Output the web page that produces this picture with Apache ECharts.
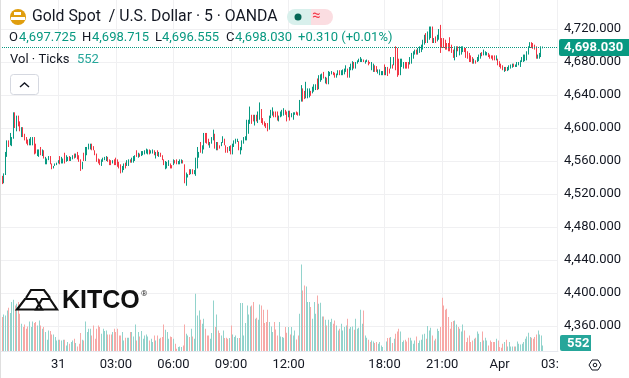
<!DOCTYPE html>
<html><head><meta charset="utf-8">
<script src="https://cdn.jsdelivr.net/npm/echarts@6/dist/echarts.min.js"></script>
<style>html,body{margin:0;padding:0;background:#fff}#c{width:629px;height:378px}</style>
</head><body><div id="c"></div>
<script>
const opens=[null,
4541,4534,4544,4566,4584,4580,4579,4588,4618,4597,
4614,4607,4590,4600,4592,4588,4585,4580,4580,4580,
4588,4580,4567,4566,4576,4567,4572,4557,4557,4562,
4565,4556,4552,4555,4556,4558,4565,4558,4558,4569,
4560,4561,4565,4561,4563,4568,4565,4570,4566,4561,
4551,4569,4561,4568,4575,4575,4580,4577,4572,4568,
4562,4561,4555,4560,4562,4561,4564,4561,4560,4558,
4561,4563,4561,4558,4555,4547,4550,4557,4555,4555,
4561,4559,4559,4561,4572,4565,4568,4567,4568,4569,
4570,4569,4573,4570,4570,4572,4564,4572,4566,4569,
4566,4561,4551,4552,4555,4556,4554,4556,4560,4561,
4557,4557,4558,4560,4555,4531,4541,4549,4545,4549,
4545,4543,4552,4565,4582,4570,4575,4592,4593,4586,
4577,4582,4586,4592,4574,4582,4578,4579,4583,4586,
4578,4576,4573,4578,4569,4578,4582,4584,4583,4569,
4574,4582,4586,4586,4594,4606,4615,4615,4604,4615,
4607,4611,4622,4611,4607,4605,4605,4599,4613,4616,
4619,4619,4619,4609,4614,4615,4616,4621,4619,4614,
4620,4614,4611,4617,4619,4618,4616,4633,4647,4644,
4637,4637,4638,4644,4643,4645,4647,4659,4648,4657,
4659,4667,4655,4660,4654,4664,4666,4667,4666,4662,
4665,4669,4665,4665,4666,4669,4671,4662,4671,4671,
4679,4673,4679,4681,4681,4681,4682,4679,4681,4681,
4680,4671,4669,4675,4674,4667,4665,4665,4665,4676,
4665,4673,4671,4673,4676,4677,4698,4696,4683,4665,
4675,4673,4679,4679,4679,4678,4679,4685,4690,4694,
4690,4692,4693,4696,4702,4714,4704,4708,4710,4722,
4704,4710,4706,4708,4724,4708,4708,4706,4702,4702,
4709,4700,4694,4683,4687,4698,4689,4690,4693,4696,
4696,4692,4690,4687,4685,4679,4681,4681,4682,4685,
4691,4689,4689,4689,4690,4688,4687,4687,4687,4683,
4683,4680,4677,4675,4669,4673,4670,4671,4673,4674,
4677,4675,4675,4677,4675,4681,4681,4682,4683,4690,
4698,4703,4702,4700,4698,4685,4685,4687,4697.725];
const closes=[null,
4533,4544,4570,4584,4578,4593,4588,4618,4601,4614,
4603,4597,4600,4590,4586,4582,4580,4586,4588,4588,
4569,4570,4573,4573,4568,4573,4564,4564,4562,4565,
4557,4551,4553,4556,4557,4560,4557,4564,4562,4558,
4566,4564,4561,4564,4566,4564,4568,4563,4560,4549,
4558,4561,4576,4576,4580,4580,4574,4574,4568,4560,
4558,4556,4561,4563,4564,4565,4560,4556,4556,4560,
4556,4556,4554,4552,4546,4553,4556,4552,4560,4561,
4559,4563,4565,4566,4566,4569,4566,4571,4571,4572,
4574,4573,4569,4572,4573,4568,4570,4567,4570,4566,
4562,4556,4559,4558,4560,4552,4552,4561,4558,4557,
4559,4561,4561,4558,4534,4545,4543,4544,4549,4545,
4548,4563,4576,4570,4571,4578,4593,4584,4582,4580,
4582,4588,4597,4576,4582,4574,4576,4582,4589,4580,
4571,4571,4577,4569,4580,4584,4586,4586,4574,4576,
4584,4588,4589,4609,4609,4625,4606,4609,4615,4609,
4619,4630,4607,4605,4603,4601,4597,4614,4621,4624,
4614,4614,4610,4614,4619,4621,4623,4617,4609,4620,
4610,4617,4618,4618,4617,4616,4633,4651,4633,4636,
4655,4647,4647,4640,4649,4652,4652,4647,4663,4664,
4665,4661,4661,4654,4668,4667,4668,4665,4662,4665,
4669,4665,4669,4670,4671,4675,4662,4673,4677,4680,
4673,4679,4681,4683,4685,4683,4681,4681,4682,4677,
4678,4679,4677,4669,4669,4670,4670,4668,4668,4665,
4673,4664,4667,4685,4673,4685,4671,4663,4665,4683,
4683,4679,4673,4673,4673,4685,4690,4692,4694,4690,
4696,4698,4700,4706,4712,4704,4716,4722,4722,4704,
4708,4704,4712,4719,4692,4698,4698,4696,4696,4694,
4694,4692,4686,4698,4698,4694,4698,4698,4698,4693,
4686,4685,4681,4681,4679,4683,4679,4685,4688,4690,
4688,4694,4692,4691,4687,4685,4685,4683,4683,4687,
4677,4675,4673,4671,4673,4670,4673,4675,4676,4677,
4675,4676,4679,4679,4681,4685,4688,4688,4692,4698,
4703,4698,4697,4696,4685,4688,4690,4698,4698.03];
const highs=[null,
4542,4545,4571,4585,4585,4594,4589,4619,4619,4615,
4615,4608,4601,4601,4593,4589,4586,4587,4589,4589,
4589,4581,4574,4574,4577,4574,4573,4565,4563,4566,
4566,4557,4554,4557,4558,4561,4566,4565,4563,4570,
4567,4565,4566,4565,4567,4569,4569,4571,4567,4562,
4559,4570,4577,4577,4581,4581,4581,4578,4573,4569,
4563,4562,4562,4564,4565,4566,4565,4562,4561,4561,
4562,4564,4562,4559,4556,4554,4557,4558,4561,4562,
4562,4564,4566,4567,4573,4570,4569,4572,4572,4573,
4575,4574,4574,4573,4574,4573,4571,4573,4571,4570,
4567,4562,4560,4559,4561,4557,4555,4562,4561,4562,
4560,4562,4562,4561,4556,4546,4544,4550,4550,4550,
4549,4564,4577,4571,4583,4579,4594,4594,4594,4587,
4583,4589,4598,4593,4583,4583,4579,4583,4590,4587,
4579,4577,4578,4579,4581,4585,4587,4587,4584,4577,
4585,4589,4590,4610,4610,4626,4616,4616,4616,4616,
4620,4631,4623,4612,4608,4606,4606,4615,4622,4625,
4620,4620,4620,4615,4620,4622,4624,4622,4620,4621,
4621,4618,4619,4619,4620,4619,4634,4652,4648,4645,
4656,4648,4648,4645,4650,4653,4653,4660,4664,4665,
4666,4668,4662,4661,4669,4668,4669,4668,4667,4666,
4670,4670,4670,4671,4672,4676,4672,4674,4678,4681,
4680,4680,4682,4684,4686,4684,4683,4682,4683,4682,
4680,4680,4678,4676,4675,4671,4671,4669,4669,4677,
4674,4674,4672,4686,4677,4686,4699,4697,4684,4684,
4684,4680,4680,4680,4680,4686,4691,4693,4695,4695,
4697,4699,4701,4707,4713,4715,4717,4723,4723,4723,
4709,4711,4713,4720,4725,4709,4709,4707,4703,4703,
4710,4701,4695,4699,4699,4699,4699,4699,4699,4697,
4697,4693,4691,4688,4686,4684,4682,4686,4689,4691,
4692,4695,4693,4692,4691,4689,4688,4688,4688,4688,
4684,4681,4678,4676,4674,4674,4674,4676,4677,4678,
4678,4677,4680,4680,4682,4686,4689,4689,4693,4699,
4704,4704,4703,4701,4699,4689,4691,4699,4698.715];
const lows=[null,
4532,4533,4543,4565,4577,4579,4578,4587,4600,4596,
4602,4596,4589,4589,4585,4581,4579,4579,4579,4579,
4568,4569,4566,4565,4567,4566,4563,4556,4556,4561,
4556,4550,4551,4554,4555,4557,4556,4557,4557,4557,
4559,4560,4560,4560,4562,4563,4564,4562,4559,4548,
4550,4560,4560,4567,4574,4574,4573,4573,4567,4559,
4557,4555,4554,4559,4561,4560,4559,4555,4555,4557,
4555,4555,4553,4551,4545,4546,4549,4551,4554,4554,
4558,4558,4558,4560,4565,4564,4565,4566,4567,4568,
4569,4568,4568,4569,4569,4567,4563,4566,4565,4565,
4561,4555,4550,4551,4554,4551,4551,4555,4557,4556,
4556,4556,4557,4557,4533,4530,4540,4543,4544,4544,
4544,4542,4551,4564,4570,4569,4574,4582,4581,4579,
4576,4581,4585,4575,4573,4573,4575,4578,4582,4579,
4570,4570,4572,4568,4568,4577,4581,4583,4573,4568,
4573,4581,4585,4585,4593,4605,4605,4608,4603,4608,
4606,4610,4606,4604,4602,4600,4596,4598,4612,4615,
4613,4613,4609,4608,4613,4614,4615,4616,4608,4613,
4609,4613,4610,4616,4616,4615,4615,4632,4632,4635,
4636,4636,4637,4639,4642,4644,4646,4646,4647,4656,
4658,4660,4654,4653,4653,4663,4665,4664,4661,4661,
4664,4664,4664,4664,4665,4668,4661,4661,4670,4670,
4672,4672,4678,4680,4680,4680,4680,4678,4680,4676,
4678,4670,4668,4668,4668,4666,4664,4664,4664,4664,
4664,4663,4666,4672,4672,4676,4670,4662,4664,4664,
4674,4672,4672,4672,4672,4677,4678,4684,4689,4689,
4689,4691,4692,4695,4701,4703,4703,4707,4709,4703,
4703,4703,4705,4707,4691,4697,4697,4695,4695,4693,
4693,4691,4685,4682,4686,4693,4688,4689,4692,4692,
4685,4684,4680,4680,4678,4678,4678,4680,4681,4684,
4687,4688,4688,4688,4686,4684,4684,4682,4682,4682,
4676,4674,4672,4670,4668,4669,4669,4670,4672,4673,
4674,4674,4674,4676,4674,4680,4680,4681,4682,4689,
4697,4697,4696,4695,4684,4684,4684,4686,4696.555];
const volumes=[null,
3400,3660,3560,4060,4330,3800,4900,5130,4560,4730,
4900,3730,2730,2400,2660,2230,2460,2960,2400,2960,
2800,2900,2560,3060,2560,2230,2400,1900,1130,2060,
2000,1660,1660,1400,1060,1130,1130,1060,1130,1130,
560,900,730,900,1060,1230,800,460,730,1800,
1130,1060,2960,1900,2230,2230,1560,2560,1230,2230,
2560,2400,1730,2230,2000,2060,1660,1660,1660,1900,
2230,1900,2230,1560,1560,1900,1060,1330,1330,1330,
1900,1900,1460,2660,1060,1900,1460,2000,1230,1560,
1660,1460,1060,1230,900,1560,1060,1560,1230,1330,
1400,2660,2130,1900,1230,1460,1400,1230,730,230,
400,460,400,560,2660,1730,1560,1400,2230,1460,
1230,5730,3560,4060,3130,2730,3230,2230,1560,1560,
1230,1800,5060,2400,3660,2060,1800,1560,2060,1300,
1330,1230,1300,2560,1660,1400,1560,1300,1300,4800,
4800,1560,2800,4560,3660,4460,4560,4900,3230,3330,
3130,4660,4560,4130,2800,2900,4130,2900,2460,1900,
2900,2160,1560,2900,1460,1400,1330,2400,1830,2400,
1660,2400,1560,2060,1160,1560,3730,8660,6060,6560,
6460,4900,4900,4400,3230,4900,3730,5560,4730,4830,
3460,3460,3130,2560,3130,2900,3230,2730,3060,2560,
2060,2230,2730,2060,2400,2560,3230,2230,2400,2460,
2130,3230,2230,2330,4130,2730,4060,1560,1330,1130,
900,1060,960,800,900,730,900,560,400,60,
960,1300,1330,1400,800,1230,1730,1960,2230,1960,
900,1060,1130,960,1330,1330,1060,730,1060,1460,
800,1060,1130,1660,1730,1230,2500,2060,2330,1560,
1060,1230,2230,2000,2400,5330,4560,4130,4230,3400,
2230,2900,3000,3060,2660,2400,2230,1960,2660,2060,
900,1330,1560,900,1060,1230,1330,1960,1730,900,
1960,1060,1330,1060,560,1060,900,900,900,1230,
1060,400,330,730,900,1130,460,900,460,460,
460,460,960,730,660,730,900,1230,1460,1830,
1400,1330,1230,1400,1660,2060,1660,1560,552];
const timeTicks={36:'31',72:'03:00',108:'06:00',144:'09:00',180:'12:00',240:'18:00',276:'21:00',312:'Apr',348:'03:00'};
const slotCount=349;
const lastPrice=4698.03, lastVolume='552';
const priceTicks={min:4320,max:4755.15,step:40};

const categories=Array.from({length:slotCount},(_,i)=>String(i));
const UP='#089981',DOWN='#F23645',VUP='#92D3CC',VDOWN='#F7A9A7',INK='#131722';
const FONT='Roboto,sans-serif';
const candle=opens.map((o,i)=>o==null?'-':[o,closes[i],lows[i],highs[i]]);
const fmt=v=>v.toFixed(3).replace(/\B(?=(\d{3})+\.)/,',');
const showTick=i=>timeTicks[i]!==undefined;
const T=(x,y,text,fill,size,extra,z)=>({type:'text',z:z||50,x,y,style:Object.assign({text,fill,font:(size||13)+'px '+FONT,textVerticalAlign:'middle'},extra||{})});
const chart=echarts.init(document.getElementById('c'),null,{renderer:'canvas'});
chart.setOption({
 animation:false,backgroundColor:'#fff',
 grid:[{left:0,top:0,width:558,height:359},{left:0,top:0,width:558,height:351}],
 xAxis:[
  {type:'category',gridIndex:0,data:categories,show:false},
  {type:'category',gridIndex:1,data:categories,
   axisLine:{show:true,lineStyle:{color:'#e6e8ee'}},axisTick:{show:false},
   splitLine:{show:true,alignWithLabel:true,interval:(i)=>showTick(i),lineStyle:{color:'#f0f0f2',width:1}},
   axisLabel:{interval:(i)=>showTick(i),formatter:(v,i)=>timeTicks[i]||'',color:INK,fontSize:13,fontFamily:FONT,margin:7,hideOverlap:false}}
 ],
 yAxis:[
  {type:'value',gridIndex:0,min:priceTicks.min,max:priceTicks.max,interval:priceTicks.step,position:'right',
   axisLine:{show:false},axisTick:{show:false},
   splitLine:{show:true,showMinLine:false,showMaxLine:false,lineStyle:{color:'#f0f0f2',width:1}},
   axisLabel:{color:INK,fontSize:13,fontFamily:FONT,margin:6,showMinLabel:false,showMaxLabel:false,formatter:fmt,padding:[0,0,4,0]}},
  {type:'value',gridIndex:1,min:0,max:35100,show:false}
 ],
 series:[
  {type:'custom',xAxisIndex:1,yAxisIndex:1,z:1,silent:true,
   data:volumes.map((v,i)=>v==null?[i,'-']:[i,v]),encode:{x:0,y:1},
   renderItem:(params,api)=>{
     const i=api.value(0), v=api.value(1);
     if(isNaN(v)) return;
     const top=api.coord([i,v]), base=api.coord([i,0]);
     return {type:'rect',shape:{x:Math.floor(top[0]),y:top[1],width:1,height:base[1]-top[1]},
       style:{fill:closes[i]>=opens[i]?VUP:VDOWN}};
   }},
  {type:'candlestick',xAxisIndex:0,yAxisIndex:0,data:candle,barWidth:0.8,z:2,silent:true,
   itemStyle:{color:UP,color0:DOWN,borderColor:UP,borderColor0:DOWN,borderWidth:1},
   markLine:{silent:true,symbol:'none',label:{show:false},lineStyle:{color:UP,type:'dotted',width:1},data:[{yAxis:lastPrice}]}}
 ],
 graphic:[
  {type:'rect',z:49,x:558,y:352,shape:{width:71,height:26},style:{fill:'#fff'}},
  {type:'rect',z:49,x:0,y:0,shape:{width:1,height:378},style:{fill:'#dfdfdf'}},
  {type:'circle',z:50,shape:{cx:18,cy:17,r:8},style:{fill:'#E09E0E'}},
  {type:'rect',z:51,x:14,y:12,shape:{width:7,height:3},style:{fill:'#fff'}},
  {type:'rect',z:51,x:11,y:17,shape:{width:14,height:3},style:{fill:'#fff'}},
  T(32,17.5,'Gold Spot  / U.S. Dollar · 5 · OANDA',INK,15.8),
  {type:'rect',z:50,x:287,y:9,shape:{width:24,height:16,r:[8,0,0,8]},style:{fill:'#D8F0EC'}},
  {type:'rect',z:50,x:311,y:9,shape:{width:22,height:16,r:[0,8,8,0]},style:{fill:'#FBDDE1'}},
  {type:'circle',z:51,shape:{cx:298,cy:17,r:3.5},style:{fill:'#056656'}},
  T(312,16.5,'≈',DOWN,15),
  T(9,38,'O',INK),T(19,38,'4,697.725',UP),
  T(82,38,'H',INK),T(92,38,'4,698.715',UP),
  T(155,38,'L',INK),T(162,38,'4,696.555',UP),
  T(226,38,'C',INK),T(235,38,'4,698.030',UP),
  T(298,38,'+0.310 (+0.01%)',UP),
  T(10,59.5,'Vol · Ticks',INK),T(77,59.5,'552','#26a69a'),
  {type:'rect',z:50,x:10.5,y:74.5,shape:{width:28,height:20,r:3},style:{fill:'#fff',stroke:'#d5d8e0',lineWidth:1}},
  {type:'polyline',z:51,shape:{points:[[20,87],[24.5,83],[29,87]]},style:{fill:'none',stroke:INK,lineWidth:1.4}},
  {type:'polygon',z:50,shape:{points:[[17,309.5],[25,299],[36,299],[42,309.5]]},style:{fill:'none',stroke:'#111',lineWidth:2.2}},
  {type:'polygon',z:50,shape:{points:[[36,309.5],[42,299],[50,299],[57,309.5]]},style:{fill:'none',stroke:'#111',lineWidth:2.2}},
  {type:'polyline',z:50,shape:{points:[[26,298],[31,290],[44,290],[50,298]]},style:{fill:'none',stroke:'#111',lineWidth:2.2}},
  T(62,301,'KITCO','#111',25,{font:'bold 25px "Liberation Sans",sans-serif'}),
  T(141,293.5,'®','#333',8),
  {type:'rect',z:52,x:559,y:39,shape:{width:70,height:17,r:[2,0,0,2]},style:{fill:UP}},
  T(564,47.5,fmt(lastPrice),'#fff',13,{font:'bold 13px '+FONT},53),
  {type:'rect',z:52,x:560,y:335,shape:{width:31,height:16,r:[2,0,0,2]},style:{fill:'#26a69a'}},
  T(567,343.5,lastVolume,'#fff',13,{font:'bold 13px '+FONT},53),
  {type:'polygon',z:50,shape:{points:[[589,365],[592,360],[598,360],[601,365],[598,370],[592,370]]},style:{fill:'none',stroke:INK,lineWidth:1}},
  {type:'circle',z:50,shape:{cx:595,cy:365,r:1.8},style:{fill:'none',stroke:INK,lineWidth:1}}
 ]
});
</script></body></html>
